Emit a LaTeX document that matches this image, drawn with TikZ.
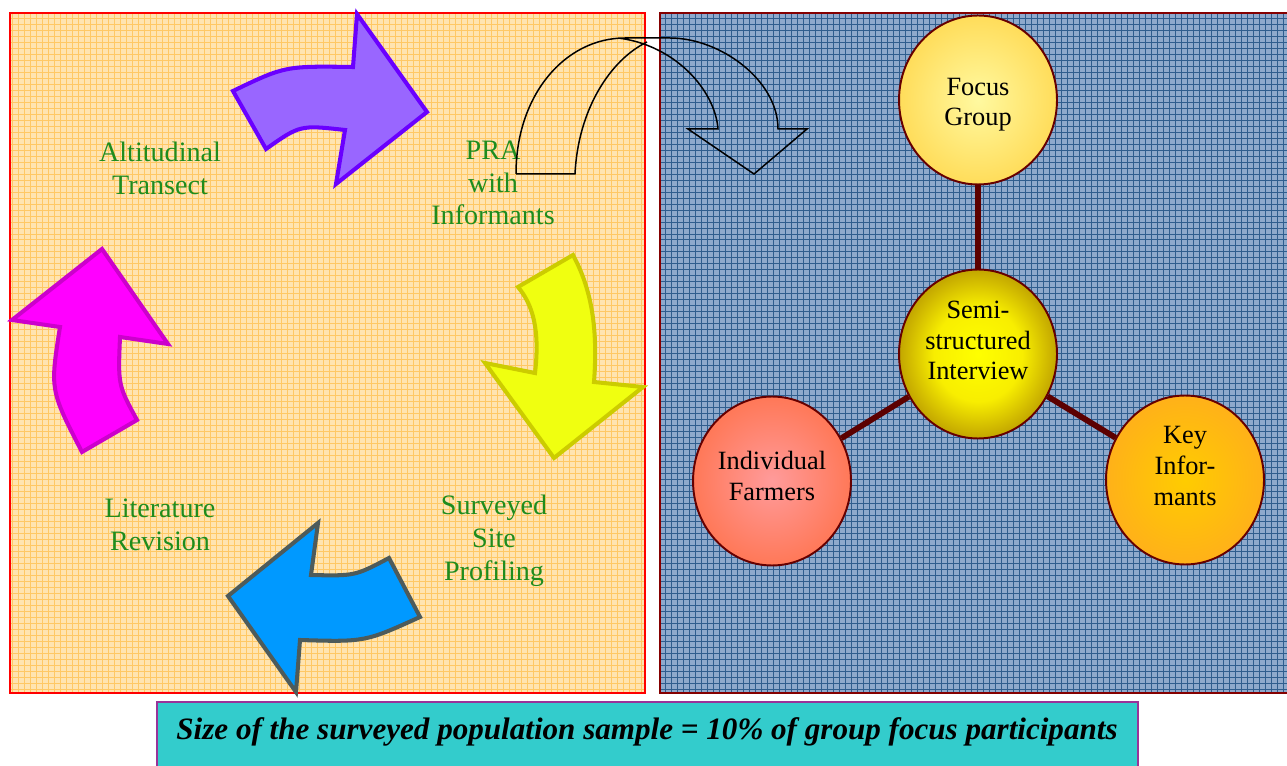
\documentclass[tikz,border=0pt]{standalone}
\usepackage{fontspec}
\setmainfont{Liberation Serif}
\usetikzlibrary{shapes.geometric}

\definecolor{leftbg}{RGB}{255,228,176}
\definecolor{leftgrid}{RGB}{255,200,100}
\definecolor{rightbg}{RGB}{142,169,204}
\definecolor{rightgrid}{RGB}{47,93,142}
\definecolor{stagegreen}{RGB}{30,140,30}
\definecolor{rimred}{RGB}{102,0,0}
\definecolor{spokered}{RGB}{92,0,0}
\definecolor{focusin}{RGB}{255,249,160}
\definecolor{focusout}{RGB}{255,192,20}
\definecolor{semiin}{RGB}{255,255,0}
\definecolor{semimid}{RGB}{248,238,0}
\definecolor{semidark}{RGB}{130,80,0}
\definecolor{semiout}{RGB}{85,15,0}
\definecolor{farmin}{RGB}{255,155,155}
\definecolor{farmout}{RGB}{255,85,20}
\definecolor{keyin}{RGB}{255,204,0}
\definecolor{keyout}{RGB}{255,150,50}
\definecolor{violetrim}{RGB}{106,0,255}
\definecolor{violetfill}{RGB}{153,102,255}
\definecolor{yellowrim}{RGB}{204,204,0}
\definecolor{yellowfill}{RGB}{240,255,16}
\definecolor{bluerim}{RGB}{77,91,91}
\definecolor{bluefill}{RGB}{0,153,255}
\definecolor{magentarim}{RGB}{204,0,204}
\definecolor{magentafill}{RGB}{255,0,255}
\definecolor{notefill}{RGB}{51,204,204}
\definecolor{noterim}{RGB}{153,51,153}

\pgfdeclareradialshading{focusshade}{\pgfpoint{0bp}{0bp}}{color(0bp)=(focusin); color(50bp)=(focusout)}
\pgfdeclareradialshading{semishade}{\pgfpoint{0bp}{0bp}}{color(0bp)=(semiin); color(14bp)=(semimid); color(38bp)=(semidark); color(50bp)=(semiout)}
\pgfdeclareradialshading{farmshade}{\pgfpoint{0bp}{0bp}}{color(0bp)=(farmin); color(50bp)=(farmout)}
\pgfdeclareradialshading{keyshade}{\pgfpoint{0bp}{0bp}}{color(0bp)=(keyin); color(50bp)=(keyout)}

\begin{document}
\begin{tikzpicture}[x=0.02cm, y=-0.02cm,
  stagetext/.style={text=stagegreen, align=center, font=\fontsize{16}{18.7}\selectfont},
  bubble/.style={ellipse, draw=rimred, line width=1.1pt, minimum width=3.16cm, minimum height=3.38cm, inner sep=0pt, shade},
  bubbletext/.style={align=center, inner sep=0pt, font=\fontsize{15}{17.4}\selectfont},
  spoke/.style={draw=spokered, line width=3.3pt},
  bigarrow/.style={line width=2.3pt},
  turnarrow/.style={draw=black, line width=0.85pt}]
\useasboundingbox (0,0) rectangle (1287,766);

% the two panels
\fill[leftbg] (10,13) rectangle (645,693);
\draw[leftgrid, line width=0.5pt, step=0.12cm] (10,13) grid (645,693);
\draw[red, line width=1.2pt] (10,13) rectangle (645,693);
\fill[rightbg] (660,13) rectangle (1287,693);
\draw[rightgrid, line width=0.5pt, step=0.12cm] (660,13) grid (1287,693);
\draw[rimred!80!red, line width=1.2pt] (660,13) rectangle (1290,693);

% cycle of curved arrows
\draw[bigarrow, draw=violetrim, fill=violetfill]
  (233,91) .. controls (285,66) .. (353,67) -- (357,14) -- (427,112) -- (336,184) -- (345,130) .. controls (300,125) .. (266,149) -- cycle;
\draw[bigarrow, draw=yellowrim, fill=yellowfill]
  (518,287) -- (573,255) .. controls (592,290) and (598,330) .. (594,382) -- (643,387) -- (554,458) -- (485,363) -- (535,373) .. controls (540,330) and (533,305) .. (518,287) -- cycle;
\draw[bigarrow, draw=bluerim, fill=bluefill]
  (389,558) .. controls (355,576) .. (311,575) -- (318,523) -- (228,596) -- (296,692) -- (300,640) .. controls (365,642) .. (420,617) -- cycle;
\draw[bigarrow, draw=magentarim, fill=magentafill]
  (82,452) -- (137,420) .. controls (118,385) .. (120,337) -- (168,344) -- (102,249) -- (12,320) -- (60,327) .. controls (50,390) .. (82,452) -- cycle;

\node[stagetext] (altitud) at (160,168) {Altitudinal\\Transect};
\node[stagetext] (pra) at (493,183) {PRA\\with\\Informants};
\node[stagetext] (survey) at (494,541) {Surveyed\\Site\\Profiling};
\node[stagetext] (litrev) at (160,525) {Literature\\Revision};

% u-turn arrow across the panels
\draw[turnarrow] (516,174) .. controls (516,95) and (565,38) .. (625,38) -- (670,38) .. controls (720,38) and (778,80) .. (778,129)
  -- (807,129) -- (754,174) -- (688,129) -- (718,129) .. controls (715,90) and (675,45) .. (618,38);
\draw[turnarrow] (516,174) -- (575,174) .. controls (578,110) and (610,60) .. (647,42);

% interview bubbles
\node[bubble, shading=focusshade, label={[bubbletext, yshift=-0.09cm]center:{Focus\\Group}}] (focus) at (978,100) {};
\node[bubble, shading=semishade, label={[bubbletext, yshift=0.27cm]center:{Semi-\\structured\\Interview}}] (semi) at (978,354) {};
\node[bubble, shading=farmshade, label={[bubbletext, yshift=0.1cm]center:{Individual\\Farmers}}] (farmers) at (772,481) {};
\node[bubble, shading=keyshade, label={[bubbletext, yshift=0.28cm]center:{Key\\Infor-\\mants}}] (keyinf) at (1185,480) {};

\draw[spoke] (semi) -- (focus);
\draw[spoke] (semi) -- (farmers);
\draw[spoke] (semi) -- (keyinf);

% sample size note
\fill[notefill] (157,702) rectangle (1138,766);
\draw[noterim, line width=1.2pt] (157,768) -- (157,702) -- (1138,702) -- (1138,768);
\node[font=\bfseries\itshape\fontsize{17.7}{20}\selectfont] (sample) at (647,732) {Size of the surveyed population sample = 10\% of group focus participants};
\end{tikzpicture}
\end{document}
